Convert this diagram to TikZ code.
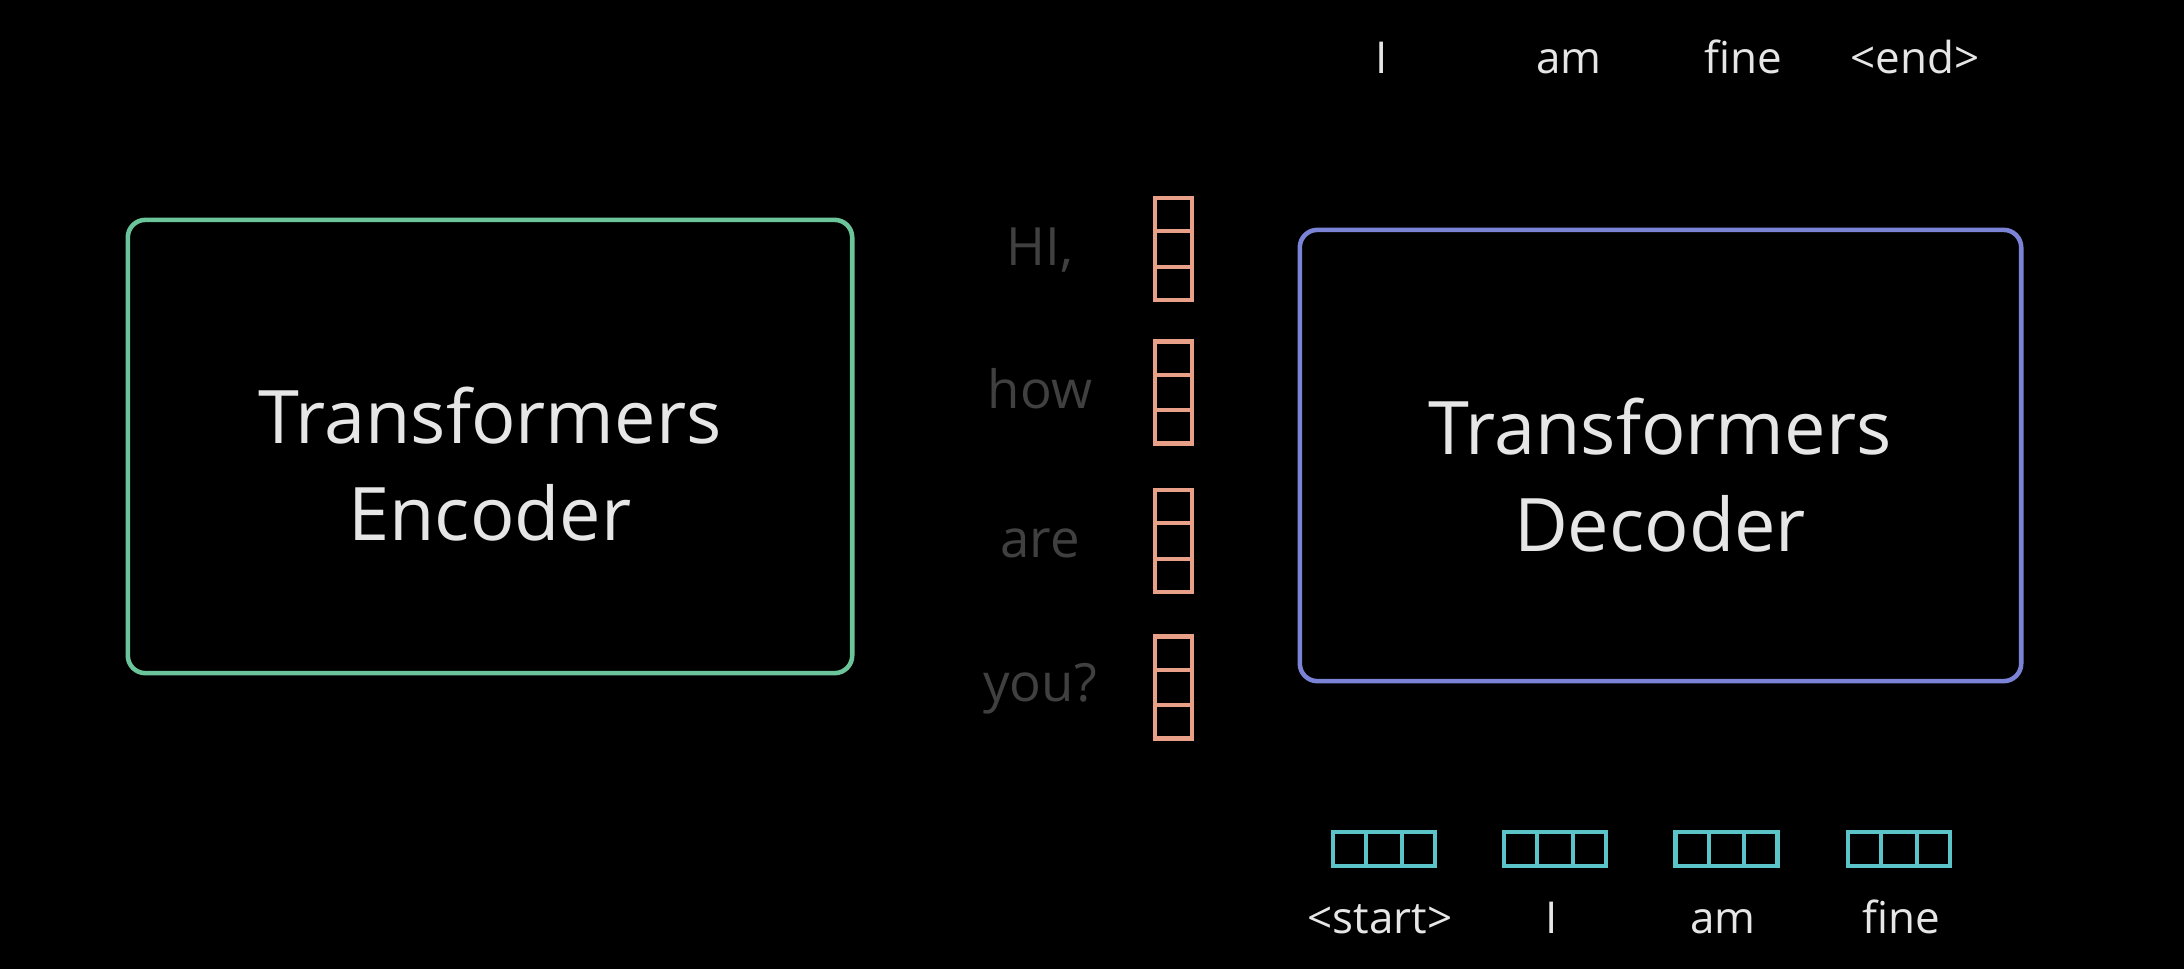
\documentclass[tikz,border=0pt]{standalone}
\usepackage{fontspec}
\setmainfont{Open Sans}
\usetikzlibrary{calc}
\definecolor{encg}{HTML}{6CC59A}
\definecolor{decb}{HTML}{7B83D6}
\definecolor{pinkv}{HTML}{E8A088}
\definecolor{cyanv}{HTML}{5BC4C8}
\definecolor{dimtxt}{HTML}{404040}
\definecolor{brtxt}{HTML}{E6E6E6}
\tikzset{
  bigbox/.style={draw, line width=1.3pt, rounded corners=5pt, inner sep=0pt},
  bigtxt/.style={text=brtxt, font=\fontsize{21}{27.5}\selectfont, align=center},
  midword/.style={text=dimtxt, font=\fontsize{15}{18}\selectfont, anchor=base},
  tokword/.style={text=brtxt, font=\fontsize{12.5}{15}\selectfont, anchor=base},
  vvec/.style={draw=pinkv, line width=1.2pt, minimum width=0.37cm, minimum height=1.02cm, inner sep=0pt},
  hvec/.style={draw=cyanv, line width=1.2pt, minimum width=1.02cm, minimum height=0.34cm, inner sep=0pt},
}
\begin{document}
\begin{tikzpicture}[x=0.01cm,y=-0.01cm]
\fill[black] (0,0) rectangle (2184,969);
\useasboundingbox (0,0) rectangle (2184,969);
% big boxes
\node[bigbox, draw=encg, minimum width=7.24cm, minimum height=4.53cm] (enc) at (490,446.5) {};
\node[bigbox, draw=decb, minimum width=7.21cm, minimum height=4.51cm] (dec) at (1660.5,455.5) {};
\node[bigtxt] (enct) at (490,464) {Transformers\\Encoder};
\node[bigtxt] (dect) at (1660,475) {Transformers\\Decoder};
% middle words
\node[midword] (w1) at (1040,265) {HI,};
\node[midword] (w2) at (1040,408) {how};
\node[midword] (w3) at (1040,557) {are};
\node[midword] (w4) at (1040,701) {you?};
% pink vectors
\foreach \i/\yc in {1/249,2/392.5,3/541,4/687.5}{
  \node[vvec] (p\i) at (1173.5,\yc) {};
  \draw[pinkv, line width=1.2pt] ($(p\i.north west)!1/3!(p\i.south west)$) -- ($(p\i.north east)!1/3!(p\i.south east)$);
  \draw[pinkv, line width=1.2pt] ($(p\i.north west)!2/3!(p\i.south west)$) -- ($(p\i.north east)!2/3!(p\i.south east)$);
}
% top words
\node[tokword] (o1) at (1382,73) {I};
\node[tokword] (o2) at (1569,73) {am};
\node[tokword] (o3) at (1743,73) {fine};
\node[tokword] (o4) at (1915,73) {<end>};
% cyan vectors
\foreach \i/\xc in {1/1384,2/1555,3/1726.5,4/1899}{
  \node[hvec] (c\i) at (\xc,849) {};
  \draw[cyanv, line width=1.2pt] ($(c\i.north west)!1/3!(c\i.north east)$) -- ($(c\i.south west)!1/3!(c\i.south east)$);
  \draw[cyanv, line width=1.2pt] ($(c\i.north west)!2/3!(c\i.north east)$) -- ($(c\i.south west)!2/3!(c\i.south east)$);
}
% bottom words
\node[tokword] (i1) at (1380,933) {<start>};
\node[tokword] (i2) at (1552,933) {I};
\node[tokword] (i3) at (1723,933) {am};
\node[tokword] (i4) at (1901,933) {fine};
\end{tikzpicture}
\end{document}
